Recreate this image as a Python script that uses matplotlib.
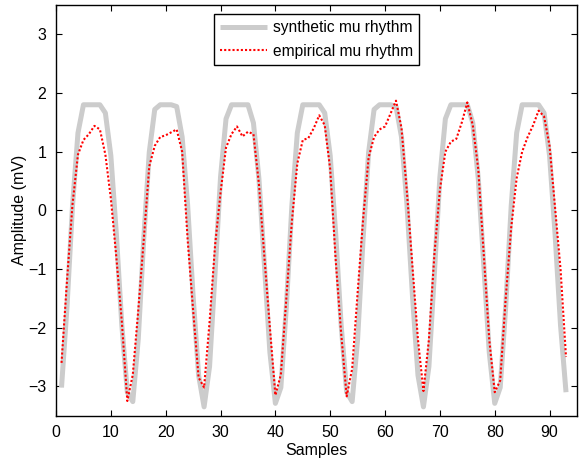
import numpy as np
import matplotlib
matplotlib.use('Agg')
import matplotlib.pyplot as plt

plt.rcParams['font.family'] = ['Liberation Sans', 'DejaVu Sans']

# sample index
samples = np.arange(1, 94)

# synthetic mu rhythm (one 40-sample block = 3 cycles, repeats)
synth_block = [-3.02, -1.65, 0.07, 1.32, 1.80, 1.80, 1.80, 1.80, 1.66, 0.93,
               -0.40, -1.96, -3.10, -3.26, -2.19, -0.48, 0.99, 1.72, 1.80, 1.80,
               1.80, 1.77, 1.25, 0.09, -1.46, -2.81, -3.35, -2.66, -1.07, 0.57,
               1.56, 1.80, 1.80, 1.80, 1.80, 1.49, 0.54, -0.93, -2.42, -3.29]
synthetic = synth_block + synth_block + synth_block[:13]

# empirical mu rhythm
empirical = [-2.60, -1.20, 0.10, 0.95, 1.20, 1.30, 1.44, 1.38, 0.95, 0.20,
             -0.80, -1.90, -3.25, -2.80, -1.70, -0.50, 0.75, 1.10, 1.25, 1.28,
             1.33, 1.38, 1.00, -0.50, -1.70, -2.85, -3.02, -1.90, -0.60, 0.30,
             1.07, 1.30, 1.43, 1.26, 1.34, 1.30, 0.45, -0.80, -2.00, -3.15,
             -2.80, -1.50, -0.20, 0.80, 1.20, 1.23, 1.40, 1.62, 1.45, 0.70,
             -0.85, -2.10, -3.17, -2.70, -1.40, -0.15, 0.90, 1.25, 1.38, 1.43,
             1.65, 1.87, 1.40, 0.30, -0.96, -2.20, -3.08, -2.20, -0.75, 0.35,
             1.00, 1.17, 1.22, 1.50, 1.84, 1.45, 0.70, -0.75, -2.20, -3.10,
             -2.90, -1.50, -0.30, 0.55, 1.00, 1.25, 1.45, 1.70, 1.60, 1.10,
             0.05, -1.00, -2.50]

fig = plt.figure(figsize=(5.8, 4.58), dpi=100)
ax = fig.add_axes([0.0966, 0.0924, 0.8982, 0.8966])

ax.plot(samples, synthetic, color='#cccccc', lw=3.6, solid_capstyle='butt',
        solid_joinstyle='round', label='synthetic mu rhythm')
ax.plot(samples, empirical, color='red', lw=1.5, linestyle=(0, (1, 1.0)),
        label='empirical mu rhythm')

ax.set_xlim(0, 95)
ax.set_ylim(-3.5, 3.5)
ax.set_xticks(np.arange(0, 91, 10))
ax.set_yticks(np.arange(-3, 4, 1))
ax.tick_params(direction='in', length=4, width=0.8, top=True, right=True,
               labelsize=11.5, pad=7)
for s in ax.spines.values():
    s.set_linewidth(1.0)
ax.set_xlabel('Samples', fontsize=11.5, labelpad=2)
ax.set_ylabel('Amplitude (mV)', fontsize=11.5, labelpad=1)

leg = ax.legend(loc='upper center', bbox_to_anchor=(0.5, 0.978), fontsize=11.2,
                fancybox=False, framealpha=1, edgecolor='black',
                handlelength=3.0, handletextpad=0.4, borderpad=0.4,
                labelspacing=0.55, borderaxespad=0)
leg.get_frame().set_linewidth(1.0)

plt.savefig('out.png', dpi=100)
